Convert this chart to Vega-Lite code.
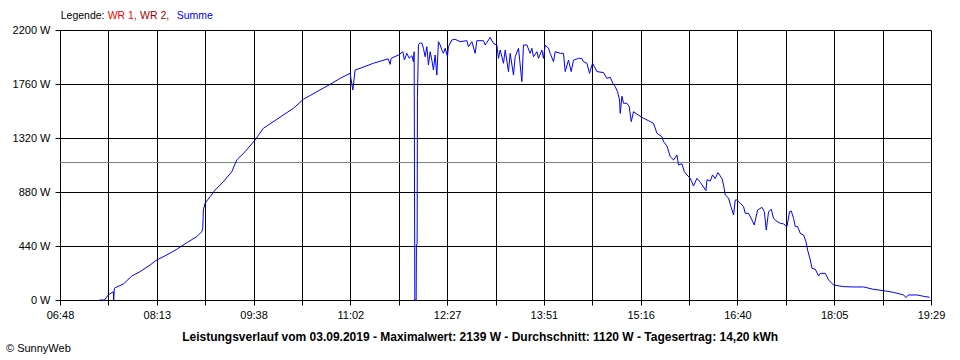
{
  "$schema": "https://vega.github.io/schema/vega-lite/v6.json",
  "autosize": {"type": "none"},
  "padding": {"left": 60, "top": 30, "right": 29, "bottom": 60},
  "width": 871,
  "height": 270,
  "background": "#ffffff",
  "config": {
    "view": {"stroke": null},
    "font": "Liberation Sans",
    "axis": {
      "domainColor": "#000000",
      "domainWidth": 1,
      "gridColor": "#000000",
      "gridOpacity": 1,
      "gridWidth": 1,
      "tickColor": "#000000",
      "tickSize": 5,
      "tickWidth": 1,
      "labelFont": "Liberation Sans",
      "labelFontSize": 11,
      "labelColor": "#000000",
      "title": null
    }
  },
  "layer": [
    {
      "data": {"values": [{"label": "Durchschnitt", "W": 1120}]},
      "mark": {"type": "rule", "color": "#808080", "strokeWidth": 1},
      "encoding": {
        "y": {"field": "W", "type": "quantitative", "scale": {"domain": [0, 2200]}, "title": null}
      }
    },
    {
      "data": {
        "values": [
          {"time": "07:22:21", "W": 0},
          {"time": "07:26:43", "W": 0},
          {"time": "07:30:13", "W": 41},
          {"time": "07:34:35", "W": 68},
          {"time": "07:34:56", "W": 0},
          {"time": "07:35:28", "W": 90},
          {"time": "07:36:04", "W": 100},
          {"time": "07:43:20", "W": 130},
          {"time": "07:50:40", "W": 195},
          {"time": "07:57:55", "W": 231},
          {"time": "08:06:40", "W": 285},
          {"time": "08:12:31", "W": 326},
          {"time": "08:21:16", "W": 367},
          {"time": "08:30:00", "W": 413},
          {"time": "08:38:45", "W": 467},
          {"time": "08:47:29", "W": 516},
          {"time": "08:51:51", "W": 557},
          {"time": "08:52:44", "W": 584},
          {"time": "08:53:15", "W": 733},
          {"time": "08:54:44", "W": 788},
          {"time": "08:59:07", "W": 842},
          {"time": "09:03:29", "W": 896},
          {"time": "09:10:44", "W": 964},
          {"time": "09:18:04", "W": 1045},
          {"time": "09:22:27", "W": 1141},
          {"time": "09:29:42", "W": 1208},
          {"time": "09:38:26", "W": 1304},
          {"time": "09:40:27", "W": 1331},
          {"time": "09:45:41", "W": 1399},
          {"time": "09:57:25", "W": 1472},
          {"time": "10:11:55", "W": 1562},
          {"time": "10:20:40", "W": 1635},
          {"time": "10:32:22", "W": 1697},
          {"time": "10:43:59", "W": 1757},
          {"time": "10:52:44", "W": 1806},
          {"time": "11:01:28", "W": 1847},
          {"time": "11:03:50", "W": 1711},
          {"time": "11:05:50", "W": 1874},
          {"time": "11:10:13", "W": 1888},
          {"time": "11:21:50", "W": 1929},
          {"time": "11:34:41", "W": 1965},
          {"time": "11:36:26", "W": 1920},
          {"time": "11:37:19", "W": 1969},
          {"time": "11:43:41", "W": 1996},
          {"time": "11:47:32", "W": 2023},
          {"time": "11:48:56", "W": 1956},
          {"time": "11:51:02", "W": 2010},
          {"time": "11:53:02", "W": 1970},
          {"time": "11:55:24", "W": 1990},
          {"time": "11:56:48", "W": 1942},
          {"time": "11:57:25", "W": 2023},
          {"time": "11:58:01", "W": 0},
          {"time": "11:59:10", "W": 0},
          {"time": "11:59:25", "W": 448},
          {"time": "12:00:02", "W": 460},
          {"time": "12:00:18", "W": 1650},
          {"time": "12:01:10", "W": 2080},
          {"time": "12:02:40", "W": 2094},
          {"time": "12:04:08", "W": 2094},
          {"time": "12:05:32", "W": 2051},
          {"time": "12:07:02", "W": 1982},
          {"time": "12:08:31", "W": 2064},
          {"time": "12:09:55", "W": 1915},
          {"time": "12:11:24", "W": 2023},
          {"time": "12:12:53", "W": 1955},
          {"time": "12:14:17", "W": 1874},
          {"time": "12:15:46", "W": 1996},
          {"time": "12:17:15", "W": 1833},
          {"time": "12:18:39", "W": 2105},
          {"time": "12:20:08", "W": 2078},
          {"time": "12:21:37", "W": 2037},
          {"time": "12:23:01", "W": 2010},
          {"time": "12:24:31", "W": 2051},
          {"time": "12:26:31", "W": 1982},
          {"time": "12:27:23", "W": 2064},
          {"time": "12:30:22", "W": 2119},
          {"time": "12:33:15", "W": 2124},
          {"time": "12:37:37", "W": 2105},
          {"time": "12:43:28", "W": 2113},
          {"time": "12:44:53", "W": 2064},
          {"time": "12:47:51", "W": 2105},
          {"time": "12:50:44", "W": 2010},
          {"time": "12:52:13", "W": 2113},
          {"time": "12:57:59", "W": 2113},
          {"time": "12:59:28", "W": 2078},
          {"time": "13:03:50", "W": 2139},
          {"time": "13:06:44", "W": 2090},
          {"time": "13:09:42", "W": 2078},
          {"time": "13:11:05", "W": 1969},
          {"time": "13:12:35", "W": 2037},
          {"time": "13:15:28", "W": 1929},
          {"time": "13:16:58", "W": 2037},
          {"time": "13:19:50", "W": 1861},
          {"time": "13:21:19", "W": 2010},
          {"time": "13:24:13", "W": 1833},
          {"time": "13:25:41", "W": 1982},
          {"time": "13:28:35", "W": 2051},
          {"time": "13:31:33", "W": 1779},
          {"time": "13:32:57", "W": 2078},
          {"time": "13:35:55", "W": 2078},
          {"time": "13:38:48", "W": 2010},
          {"time": "13:40:17", "W": 2051},
          {"time": "13:41:41", "W": 1982},
          {"time": "13:44:40", "W": 2023},
          {"time": "13:46:04", "W": 1969},
          {"time": "13:49:02", "W": 2037},
          {"time": "13:50:26", "W": 1969},
          {"time": "13:51:55", "W": 2078},
          {"time": "13:54:48", "W": 2051},
          {"time": "13:56:17", "W": 2010},
          {"time": "13:59:10", "W": 1942},
          {"time": "14:00:39", "W": 2023},
          {"time": "14:05:02", "W": 2010},
          {"time": "14:07:55", "W": 2010},
          {"time": "14:09:24", "W": 1861},
          {"time": "14:12:17", "W": 1955},
          {"time": "14:14:38", "W": 1861},
          {"time": "14:16:39", "W": 1955},
          {"time": "14:21:01", "W": 1969},
          {"time": "14:23:59", "W": 1969},
          {"time": "14:25:23", "W": 1942},
          {"time": "14:28:22", "W": 1929},
          {"time": "14:30:38", "W": 1847},
          {"time": "14:33:16", "W": 1929},
          {"time": "14:37:06", "W": 1861},
          {"time": "14:42:52", "W": 1853},
          {"time": "14:45:50", "W": 1806},
          {"time": "14:48:44", "W": 1815},
          {"time": "14:51:05", "W": 1765},
          {"time": "14:53:06", "W": 1738},
          {"time": "14:55:07", "W": 1697},
          {"time": "14:56:52", "W": 1630},
          {"time": "14:57:28", "W": 1521},
          {"time": "14:58:57", "W": 1660},
          {"time": "15:00:21", "W": 1603},
          {"time": "15:03:19", "W": 1603},
          {"time": "15:05:20", "W": 1575},
          {"time": "15:07:05", "W": 1453},
          {"time": "15:09:05", "W": 1534},
          {"time": "15:12:04", "W": 1515},
          {"time": "15:16:26", "W": 1488},
          {"time": "15:22:12", "W": 1461},
          {"time": "15:26:35", "W": 1439},
          {"time": "15:29:33", "W": 1358},
          {"time": "15:33:55", "W": 1331},
          {"time": "15:35:19", "W": 1290},
          {"time": "15:38:17", "W": 1255},
          {"time": "15:41:10", "W": 1168},
          {"time": "15:44:04", "W": 1141},
          {"time": "15:47:02", "W": 1182},
          {"time": "15:48:26", "W": 1100},
          {"time": "15:51:24", "W": 1110},
          {"time": "15:53:25", "W": 1046},
          {"time": "15:55:46", "W": 1019},
          {"time": "15:58:39", "W": 992},
          {"time": "16:01:32", "W": 929},
          {"time": "16:04:31", "W": 992},
          {"time": "16:07:24", "W": 960},
          {"time": "16:12:22", "W": 891},
          {"time": "16:13:15", "W": 980},
          {"time": "16:16:08", "W": 970},
          {"time": "16:18:08", "W": 1019},
          {"time": "16:20:30", "W": 990},
          {"time": "16:22:52", "W": 1038},
          {"time": "16:26:22", "W": 990},
          {"time": "16:27:46", "W": 937},
          {"time": "16:29:15", "W": 856},
          {"time": "16:32:08", "W": 830},
          {"time": "16:34:14", "W": 761},
          {"time": "16:36:30", "W": 693},
          {"time": "16:37:59", "W": 815},
          {"time": "16:39:28", "W": 815},
          {"time": "16:42:21", "W": 790},
          {"time": "16:45:14", "W": 760},
          {"time": "16:46:43", "W": 706},
          {"time": "16:49:37", "W": 706},
          {"time": "16:52:35", "W": 652},
          {"time": "16:54:35", "W": 611},
          {"time": "16:57:29", "W": 733},
          {"time": "17:01:19", "W": 755},
          {"time": "17:03:20", "W": 720},
          {"time": "17:05:05", "W": 570},
          {"time": "17:07:05", "W": 720},
          {"time": "17:09:27", "W": 739},
          {"time": "17:11:28", "W": 665},
          {"time": "17:14:26", "W": 640},
          {"time": "17:17:19", "W": 625},
          {"time": "17:20:12", "W": 620},
          {"time": "17:23:10", "W": 598},
          {"time": "17:25:27", "W": 720},
          {"time": "17:26:56", "W": 725},
          {"time": "17:28:56", "W": 665},
          {"time": "17:30:26", "W": 598},
          {"time": "17:32:26", "W": 598},
          {"time": "17:34:48", "W": 543},
          {"time": "17:37:41", "W": 530},
          {"time": "17:39:47", "W": 475},
          {"time": "17:41:11", "W": 407},
          {"time": "17:43:33", "W": 326},
          {"time": "17:45:02", "W": 258},
          {"time": "17:47:55", "W": 250},
          {"time": "17:50:48", "W": 195},
          {"time": "17:52:17", "W": 217},
          {"time": "17:56:39", "W": 217},
          {"time": "17:59:32", "W": 163},
          {"time": "18:03:55", "W": 122},
          {"time": "18:12:39", "W": 109},
          {"time": "18:21:23", "W": 106},
          {"time": "18:30:08", "W": 106},
          {"time": "18:38:52", "W": 87},
          {"time": "18:47:37", "W": 76},
          {"time": "18:56:21", "W": 62},
          {"time": "19:05:05", "W": 41},
          {"time": "19:07:11", "W": 19},
          {"time": "19:09:12", "W": 41},
          {"time": "19:16:48", "W": 41},
          {"time": "19:22:34", "W": 30},
          {"time": "19:27:49", "W": 22}
        ],
        "format": {"parse": {"time": "date:'%H:%M:%S'"}}
      },
      "mark": {"type": "line", "color": "#0000ff", "strokeWidth": 1, "interpolate": "linear"},
      "encoding": {
        "x": {
          "field": "time",
          "type": "temporal",
          "scale": {"domain": [
            {"year": 1900, "month": 1, "date": 1, "hours": 6, "minutes": 48},
            {"year": 1900, "month": 1, "date": 1, "hours": 19, "minutes": 29}
          ]},
          "axis": {
            "values": [
              {"year": 1900, "month": 1, "date": 1, "hours": 6, "minutes": 48, "seconds": 0},
              {"year": 1900, "month": 1, "date": 1, "hours": 7, "minutes": 30, "seconds": 16, "milliseconds": 667},
              {"year": 1900, "month": 1, "date": 1, "hours": 8, "minutes": 12, "seconds": 33, "milliseconds": 333},
              {"year": 1900, "month": 1, "date": 1, "hours": 8, "minutes": 54, "seconds": 50},
              {"year": 1900, "month": 1, "date": 1, "hours": 9, "minutes": 37, "seconds": 6, "milliseconds": 667},
              {"year": 1900, "month": 1, "date": 1, "hours": 10, "minutes": 19, "seconds": 23, "milliseconds": 333},
              {"year": 1900, "month": 1, "date": 1, "hours": 11, "minutes": 1, "seconds": 40},
              {"year": 1900, "month": 1, "date": 1, "hours": 11, "minutes": 43, "seconds": 56, "milliseconds": 667},
              {"year": 1900, "month": 1, "date": 1, "hours": 12, "minutes": 26, "seconds": 13, "milliseconds": 333},
              {"year": 1900, "month": 1, "date": 1, "hours": 13, "minutes": 8, "seconds": 30},
              {"year": 1900, "month": 1, "date": 1, "hours": 13, "minutes": 50, "seconds": 46, "milliseconds": 667},
              {"year": 1900, "month": 1, "date": 1, "hours": 14, "minutes": 33, "seconds": 3, "milliseconds": 333},
              {"year": 1900, "month": 1, "date": 1, "hours": 15, "minutes": 15, "seconds": 20},
              {"year": 1900, "month": 1, "date": 1, "hours": 15, "minutes": 57, "seconds": 36, "milliseconds": 667},
              {"year": 1900, "month": 1, "date": 1, "hours": 16, "minutes": 39, "seconds": 53, "milliseconds": 333},
              {"year": 1900, "month": 1, "date": 1, "hours": 17, "minutes": 22, "seconds": 10},
              {"year": 1900, "month": 1, "date": 1, "hours": 18, "minutes": 4, "seconds": 26, "milliseconds": 667},
              {"year": 1900, "month": 1, "date": 1, "hours": 18, "minutes": 46, "seconds": 43, "milliseconds": 333},
              {"year": 1900, "month": 1, "date": 1, "hours": 19, "minutes": 29, "seconds": 0}
            ],
            "labelExpr": "(round((time(datum.value) - time(datetime(1900,0,1,6,48,0,0))) / 2536666.667) % 2 == 0) ? timeFormat(time(datum.value) + 59000, '%H:%M') : ''",
            "labelPadding": 4,
            "labelBaseline": "top",
            "labelFlush": false,
            "labelOverlap": false,
            "grid": true,
            "title": null
          }
        },
        "y": {
          "field": "W",
          "type": "quantitative",
          "scale": {"domain": [0, 2200]},
          "axis": {
            "values": [0, 440, 880, 1320, 1760, 2200],
            "labelExpr": "datum.value + ' W'",
            "labelPadding": 5,
            "labelFlush": false,
            "labelOverlap": false,
            "grid": true,
            "title": null
          }
        }
      }
    },
    {
      "data": {"values": [{"label": "Legende:"}]},
      "mark": {"type": "text", "align": "left", "baseline": "middle", "font": "Liberation Sans", "fontSize": 10.5, "color": "#000000"},
      "encoding": {
        "text": {"field": "label"},
        "x": {"datum": {"year": 1900, "month": 1, "date": 1, "hours": 6, "minutes": 48, "seconds": 37}, "type": "temporal", "title": null},
        "y": {"datum": 2314, "type": "quantitative", "title": null}
      }
    },
    {
      "data": {"values": [{"label": "WR 1,"}]},
      "mark": {"type": "text", "align": "left", "baseline": "middle", "font": "Liberation Sans", "fontSize": 10.5, "color": "#ff0000"},
      "encoding": {
        "text": {"field": "label"},
        "x": {"datum": {"year": 1900, "month": 1, "date": 1, "hours": 7, "minutes": 29, "seconds": 41}, "type": "temporal", "title": null},
        "y": {"datum": 2314, "type": "quantitative", "title": null}
      }
    },
    {
      "data": {"values": [{"label": "WR 2,"}]},
      "mark": {"type": "text", "align": "left", "baseline": "middle", "font": "Liberation Sans", "fontSize": 10.5, "color": "#a00000"},
      "encoding": {
        "text": {"field": "label"},
        "x": {"datum": {"year": 1900, "month": 1, "date": 1, "hours": 7, "minutes": 57, "seconds": 55}, "type": "temporal", "title": null},
        "y": {"datum": 2314, "type": "quantitative", "title": null}
      }
    },
    {
      "data": {"values": [{"label": "Summe"}]},
      "mark": {"type": "text", "align": "left", "baseline": "middle", "font": "Liberation Sans", "fontSize": 10.5, "color": "#0000ff"},
      "encoding": {
        "text": {"field": "label"},
        "x": {"datum": {"year": 1900, "month": 1, "date": 1, "hours": 8, "minutes": 30, "seconds": 0}, "type": "temporal", "title": null},
        "y": {"datum": 2314, "type": "quantitative", "title": null}
      }
    },
    {
      "data": {"values": [{"label": "Leistungsverlauf vom 03.09.2019 - Maximalwert: 2139 W - Durchschnitt: 1120 W - Tagesertrag: 14,20 kWh"}]},
      "mark": {"type": "text", "align": "center", "baseline": "middle", "font": "Liberation Sans", "fontSize": 12, "fontWeight": "bold", "color": "#000000"},
      "encoding": {
        "text": {"field": "label"},
        "x": {"datum": {"year": 1900, "month": 1, "date": 1, "hours": 12, "minutes": 55, "seconds": 6}, "type": "temporal", "title": null},
        "y": {"datum": -301, "type": "quantitative", "title": null}
      }
    },
    {
      "data": {"values": [{"label": "© SunnyWeb"}]},
      "mark": {"type": "text", "align": "left", "baseline": "middle", "font": "Liberation Sans", "fontSize": 11, "color": "#000000"},
      "encoding": {
        "text": {"field": "label"},
        "x": {"datum": {"year": 1900, "month": 1, "date": 1, "hours": 6, "minutes": 0, "seconds": 48}, "type": "temporal", "title": null},
        "y": {"datum": -399, "type": "quantitative", "title": null}
      }
    }
  ]
}
